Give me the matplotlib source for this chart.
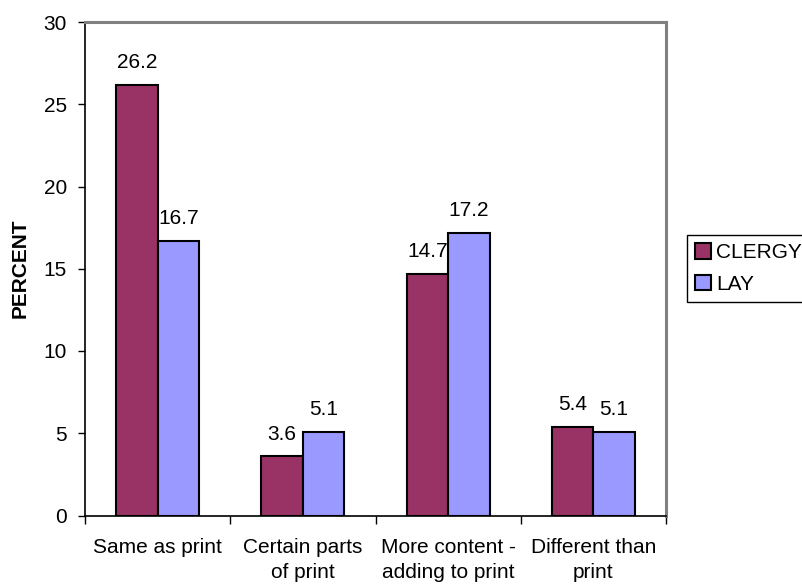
import matplotlib.pyplot as plt
import numpy as np

plt.rcParams['font.family'] = ['Liberation Sans', 'DejaVu Sans']

categories = ["Same as print", "Certain parts\nof print", "More content -\nadding to print", "Different than\nprint"]
clergy = [26.2, 3.6, 14.7, 5.4]
lay = [16.7, 5.1, 17.2, 5.1]

fs = 15
bw = 1.0 / 3.5  # Excel gap width 150%

fig = plt.figure(figsize=(8.02, 5.86), dpi=100)
ax = fig.add_axes([85 / 802, 1 - 515.5 / 586, 581 / 802, 493.5 / 586])

x = np.arange(len(categories)) + 0.5
b1 = ax.bar(x - bw / 2, clergy, bw, color='#993366', edgecolor='black', linewidth=1.5, label='CLERGY', zorder=3)
b2 = ax.bar(x + bw / 2, lay, bw, color='#9999FF', edgecolor='black', linewidth=1.5, label='LAY', zorder=3)

for xs, vals in [(x - bw / 2, clergy), (x + bw / 2, lay)]:
    for xi, v in zip(xs, vals):
        ax.annotate(f"{v}", (xi, v), xytext=(0, 9), textcoords='offset points',
                    ha='center', va='bottom', fontsize=fs)

ax.set_xlim(0, 4)
ax.set_ylim(0, 30)
ax.set_yticks(range(0, 31, 5))
ax.tick_params(axis='y', direction='out', length=5, width=1, pad=8, labelsize=fs)

ax.set_xticks(range(5))
ax.set_xticklabels([])
ax.set_xticks(x, minor=True)
ax.set_xticklabels(categories, minor=True, fontsize=fs, linespacing=1.4)
ax.tick_params(axis='x', which='major', direction='out', length=6, width=1)
ax.tick_params(axis='x', which='minor', length=0, pad=16.5)

for s in ['top', 'right']:
    ax.spines[s].set_color('#808080')
    ax.spines[s].set_linewidth(2.2)
for s in ['left', 'bottom']:
    ax.spines[s].set_color('black')
    ax.spines[s].set_linewidth(1.2)

ax.set_ylabel('PERCENT', fontsize=fs, fontweight='bold')
ax.yaxis.set_label_coords(-0.096, 0.5)

leg = fig.legend(handles=[b1, b2], loc='upper left', bbox_to_anchor=(687 / 802, 1 - 235 / 586),
                 fontsize=fs, frameon=True, fancybox=False, framealpha=1, edgecolor='black',
                 handlelength=0.75, handleheight=0.75, handletextpad=0.25,
                 borderpad=0.4, labelspacing=0.6, borderaxespad=0)
leg.get_frame().set_linewidth(1)

fig.savefig('out.png', dpi=100)
